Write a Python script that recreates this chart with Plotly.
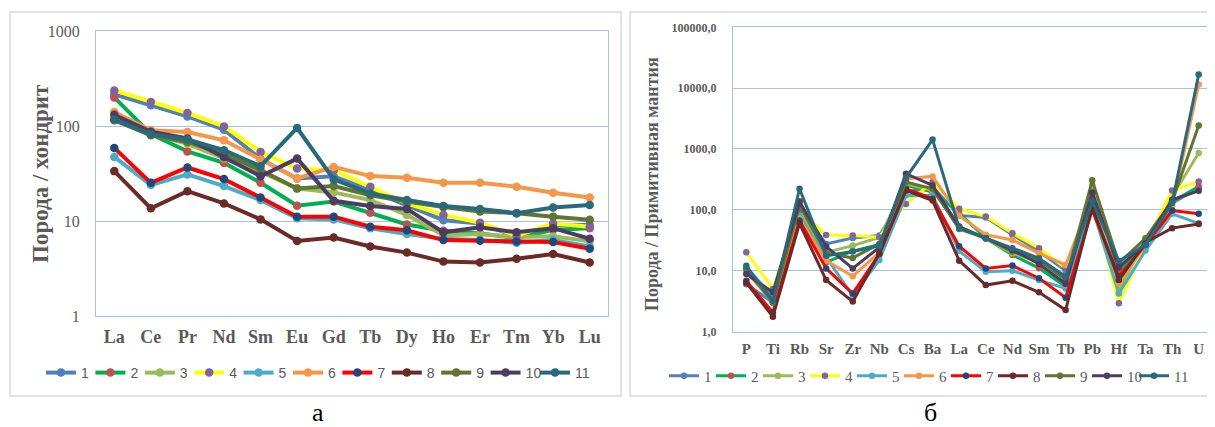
import plotly.graph_objects as go

# page body has an 8px margin, so the figure is drawn 8px in and sized to fill the window
OFF = 8
W, H = 1215 - OFF, 427 - OFF

ree = ["La", "Ce", "Pr", "Nd", "Sm", "Eu", "Gd", "Tb", "Dy", "Ho", "Er", "Tm", "Yb", "Lu"]
spider = ["P", "Ti", "Rb", "Sr", "Zr", "Nb", "Cs", "Ba", "La", "Ce", "Nd", "Sm", "Tb", "Pb", "Hf", "Ta", "Th", "U"]
names = ["1", "2", "3", "4", "5", "6", "7", "8", "9", "10", "11"]

ree_1 = [215, 165, 126, 91.5, 45, 28, 29.5, 21, 14.7, 10.2, 9.4, 6.9, 9.1, 9.1]
ree_2 = [200, 82, 54, 40.9, 25.3, 14.5, 16, 12.2, 9.2, 7.9, 7.4, 6.6, 8.1, 8.4]
ree_3 = [119, 82, 65, 45.5, 33, 22, 20, 16.6, 11.6, 7.1, 7.3, 6.8, 6.9, 6.1]
ree_4 = [237, 179, 137, 99, 53.4, 35.7, 34, 22.9, 15.3, 11.6, 9.6, 7.0, 9.4, 8.7]
ree_5 = [47.3, 23.9, 30.9, 23.3, 16.6, 10.7, 10.4, 8.4, 7.3, 6.5, 6.3, 5.9, 6.3, 5.4]
ree_6 = [140, 90, 86.5, 70.7, 44.4, 28, 37.1, 29.7, 28.5, 25.3, 25.3, 22.9, 19.8, 17.7]
ree_7 = [58.8, 25.2, 36.6, 27.6, 17.7, 11.1, 11.1, 8.7, 8.0, 6.3, 6.2, 6.1, 6.0, 5.1]
ree_8 = [33.5, 13.6, 20.6, 15.3, 10.4, 6.17, 6.7, 5.4, 4.65, 3.74, 3.66, 4.0, 4.5, 3.66]
ree_9 = [115, 80, 68, 51, 34.3, 22, 23.3, 18.7, 16, 14, 12.6, 12.1, 11.1, 10.3]
ree_10 = [131, 87, 74, 47.3, 29.6, 45.4, 16.3, 14.4, 13.4, 7.6, 8.6, 7.6, 8.4, 6.5]
ree_11 = [117, 82, 72, 55.6, 37.8, 95.3, 27.4, 19.5, 16.6, 14.4, 13.4, 12.1, 13.9, 14.7]

pm_1 = [6.0, 3.0, 110, 27.5, 34.5, 37.7, 195, 236, 81, 75, 38.8, 20.6, 10, 129, 9.1, 26.5, 129, 228]
pm_2 = [10.5, 3.0, 140, 13.7, 21, 27, 252, 195, 89, 34, 18.1, 11.0, 5.5, 214, 10.2, 26.5, 137, 242]
pm_3 = [10.0, 3.6, 92, 20, 25.8, 35, 268, 208, 52, 34, 19.3, 14.1, 7.5, 258, 4.8, 32, 165, 859]
pm_4 = [20, 5.0, 98, 38.7, 37.7, 35.4, 125, 286, 104, 77.6, 41.2, 23.3, 11, 146, 2.9, 26.5, 208, 293]
pm_5 = [11, 3.9, 80, 16.6, 3.85, 15, 172, 172, 21, 9.6, 10, 7.0, 5.1, 107, 4.2, 21.4, 86, 60]
pm_6 = [9.5, 3.0, 71, 14.6, 8.1, 20, 324, 354, 80, 38.8, 32, 19.3, 12.4, 165, 6.2, 26.5, 113, 11500]
pm_7 = [6.8, 2.05, 67, 10.9, 4.2, 18.8, 222, 152, 25.2, 10.9, 12.1, 7.5, 3.6, 100, 8.0, 26.5, 97.5, 86]
pm_8 = [6.3, 1.75, 60, 7.0, 3.1, 19.3, 208, 142, 14.6, 5.8, 6.8, 4.4, 2.25, 113, 7.0, 29, 50, 58.7]
pm_9 = [10.5, 3.0, 118, 19.4, 16.2, 27.5, 286, 222, 48.6, 34, 20.6, 15, 7.0, 305, 13.3, 34, 137, 2427]
pm_10 = [8.8, 4.4, 134, 24.9, 10.9, 24.2, 392, 252, 53, 34, 21.9, 12.9, 6.1, 193, 11.3, 28.3, 146, 205]
pm_11 = [12, 3.2, 222, 17.6, 20.6, 25.8, 336, 1425, 50.5, 34.1, 23.3, 16, 8.0, 137, 14.4, 26.5, 129, 16800]

ree_series = [ree_1, ree_2, ree_3, ree_4, ree_5, ree_6, ree_7, ree_8, ree_9, ree_10, ree_11]
pm_series = [pm_1, pm_2, pm_3, pm_4, pm_5, pm_6, pm_7, pm_8, pm_9, pm_10, pm_11]

line_colors = ["#4F81BD", "#00B050", "#9BBB59", "#FFFF00", "#4BACC6", "#F79646",
               "#FF0000", "#6B2A26", "#5F7530", "#4D3B62", "#276A7C"]
marker_colors = ["#4F81BD", "#C0504D", "#9BBB59", "#8064A2", "#4BACC6", "#F79646",
                 "#1F497D", "#6B2A26", "#5F7530", "#4D3B62", "#276A7C"]

pm_ticks = [1, 10, 100, 1000, 10000, 100000]
pm_ticktext = ["1,0", "10,0", "100,0", "1000,0", "10000,0", "100000,0"]
ree_ticks = [1, 10, 100, 1000]
ree_ticktext = ["1", "10", "100", "1000"]

fig = go.Figure()
for i, n in enumerate(names):
    fig.add_trace(go.Scatter(
        x=ree, y=ree_series[i], name=n, mode="lines+markers",
        line=dict(color=line_colors[i], width=4),
        marker=dict(color=marker_colors[i], size=8.5),
        legendwidth=(22 if i == len(names) - 1 else None),
        xaxis="x", yaxis="y", legend="legend"))
for i, n in enumerate(names):
    fig.add_trace(go.Scatter(
        x=spider, y=pm_series[i], name=n, mode="lines+markers",
        line=dict(color=line_colors[i], width=3),
        marker=dict(color=marker_colors[i], size=6.5),
        legendwidth=(22 if i == len(names) - 1 else None),
        xaxis="x2", yaxis="y2", legend="legend2"))

def px(x):
    return (x - OFF) / W

def py(y):
    return 1 - (y - OFF) / H

grid = "#A9C1E3"
tick_col = "#5A5A5A"
serif = "Liberation Serif, Times New Roman, serif"

fig.update_layout(
    width=W, height=H,
    margin=dict(l=0, r=0, t=0, b=0, autoexpand=False),
    paper_bgcolor="white", plot_bgcolor="white",
    showlegend=True,
    xaxis=dict(domain=[px(96), px(608)], anchor="y", type="category",
               range=[-0.5, 13.5], showgrid=False, showline=True, linecolor=grid,
               linewidth=1, mirror=True, ticks="", zeroline=False, automargin=False,
               tickfont=dict(family=serif, size=18, color=tick_col, weight="bold"),
               ticklabelstandoff=4),
    yaxis=dict(domain=[py(316), py(31)], anchor="x", type="log", range=[0, 3],
               tickvals=ree_ticks, ticktext=ree_ticktext, showgrid=True, gridcolor=grid,
               gridwidth=1, showline=True, linecolor=grid, linewidth=1, mirror=True,
               ticks="", zeroline=False, automargin=False,
               tickfont=dict(family=serif, size=16, color=tick_col),
               ticklabelstandoff=12),
    xaxis2=dict(domain=[px(733), px(1212)], anchor="y2", type="category",
                range=[-0.5, 17.5], showgrid=False, showline=True, linecolor=grid,
                linewidth=1, mirror=True, ticks="", zeroline=False, automargin=False,
                tickfont=dict(family=serif, size=15, color=tick_col, weight="bold"),
                ticklabelstandoff=3),
    yaxis2=dict(domain=[py(331.5), py(27.3)], anchor="x2", type="log", range=[0, 5],
                tickvals=pm_ticks, ticktext=pm_ticktext, showgrid=True, gridcolor=grid,
                gridwidth=1, showline=True, linecolor=grid, linewidth=1, mirror=True,
                ticks="", zeroline=False, automargin=False,
                tickfont=dict(family=serif, size=12, color=tick_col, weight="bold"),
                ticklabelstandoff=13),
    legend=dict(orientation="h", x=px(41), y=py(373), xanchor="left", yanchor="middle",
                entrywidth=4.4, entrywidthmode="pixels", traceorder="normal",
                bgcolor="rgba(0,0,0,0)", borderwidth=0,
                font=dict(family="Liberation Sans, Arial, sans-serif", size=14, color=tick_col)),
    legend2=dict(orientation="h", x=px(664), y=py(376), xanchor="left", yanchor="middle",
                 entrywidth=2.0, entrywidthmode="pixels", traceorder="normal",
                 bgcolor="rgba(0,0,0,0)", borderwidth=0,
                 font=dict(family=serif, size=15, color=tick_col)),
    shapes=[
        dict(type="rect", xref="paper", yref="paper", x0=px(10), x1=px(621),
             y0=py(396), y1=py(12), line=dict(color="#D9D9D9", width=1.5), layer="below"),
        dict(type="rect", xref="paper", yref="paper", x0=px(630), x1=px(1218),
             y0=py(396), y1=py(12), line=dict(color="#D9D9D9", width=1.5), layer="below"),
    ],
    annotations=[
        dict(text="<b>Порода / хондрит</b>", xref="paper", yref="paper", x=px(40), y=py(174),
             xanchor="center", yanchor="middle", textangle=-90, showarrow=False,
             font=dict(family=serif, size=23, color=tick_col)),
        dict(text="<b>Порода / Примитивная мантия</b>", xref="paper", yref="paper",
             x=px(652), y=py(184), xanchor="center", yanchor="middle", textangle=-90,
             showarrow=False, font=dict(family=serif, size=18, color=tick_col)),
        dict(text="а", xref="paper", yref="paper", x=px(318), y=py(412), xanchor="center",
             yanchor="middle", showarrow=False, font=dict(family=serif, size=26, color="black")),
        dict(text="б", xref="paper", yref="paper", x=px(930), y=py(412), xanchor="center",
             yanchor="middle", showarrow=False, font=dict(family=serif, size=26, color="black")),
    ],
)

fig.write_html("out.html")
